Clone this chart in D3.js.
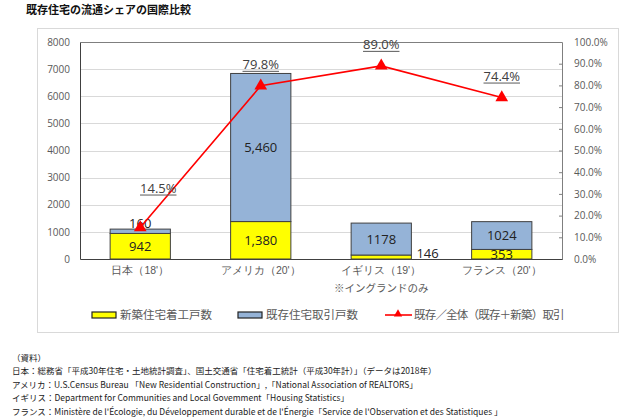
<!DOCTYPE html>
<html><head><meta charset="utf-8">
<script src="https://cdn.jsdelivr.net/npm/d3@7"></script>
<style>
body{margin:0;background:#fff;}
svg{display:block;font-family:"Noto Sans CJK JP","Noto Sans",sans-serif;}
</style></head><body>
<svg id="c" width="630" height="420"></svg>
<script>
const categories = ["日本（18'）", "アメリカ（20'）", "イギリス（19'）", "フランス（20'）"];
const newBuilt = [942, 1380, 146, 353];
const existing = [160, 5460, 1178, 1024];
const share = [14.5, 79.8, 89.0, 74.4];
const existingLabels = ["160", "5,460", "1178", "1024"];
const newLabels = ["942", "1,380", "146", "353"];
const leftTicks = [0,1000,2000,3000,4000,5000,6000,7000,8000];
const rightTicks = [0,10,20,30,40,50,60,70,80,90,100];
const legendLabels = ["新築住宅着工戸数", "既存住宅取引戸数", "既存／全体（既存＋新築）取引"];
const subNote = "※イングランドのみ";
const title = "既存住宅の流通シェアの国際比較";
const sources = [
  "（資料）",
  "日本：総務省「平成30年住宅・土地統計調査」、国土交通省「住宅着工統計（平成30年計）」（データは2018年）",
  "アメリカ：U.S.Census Bureau 「New Residential Construction」,「National Association of REALTORS」",
  "イギリス：Department for Communities and Local Govemment「Housing Statistics」",
  "フランス：Ministère de l'Écologie, du Développement durable et de l'Énergie「Service de l'Observation et des Statistiques 」"
];

const svg = d3.select("#c");
const L = 80, R = 562, T = 42, B = 259;
const gray = "#595959";

// outer frame
svg.append("rect").attr("x",37.5).attr("y",28.5).attr("width",581).attr("height",304)
  .attr("fill","none").attr("stroke","#d9d9d9");

svg.append("text").attr("x",26).attr("y",14).attr("font-size",11).attr("font-weight","bold")
  .attr("fill","#111").text(title);

const x = d3.scaleBand().domain(categories).range([L,R]).paddingInner(0.5).paddingOuter(0.25);
const y = d3.scaleLinear().domain([0,8000]).range([B,T]);
const y2 = d3.scaleLinear().domain([0,100]).range([B,T]);

// gridlines
svg.append("g").selectAll("line").data(leftTicks.slice(1)).join("line")
  .attr("x1",L).attr("x2",R).attr("y1",d=>Math.round(y(d))+0.5).attr("y2",d=>Math.round(y(d))+0.5)
  .attr("stroke","#d9d9d9").attr("stroke-width",1);

// left axis
const gl = svg.append("g").attr("transform",`translate(${L},0)`)
  .call(d3.axisLeft(y).tickValues(leftTicks).tickSize(0).tickPadding(10).tickFormat(d3.format("d")));
gl.select(".domain").attr("stroke","#404040");
gl.selectAll("text").attr("font-size",10).attr("fill",gray).attr("font-family","'Open Sans',sans-serif");

// right axis
const gr = svg.append("g").attr("transform",`translate(${R},0)`)
  .call(d3.axisRight(y2).tickValues(rightTicks).tickSize(-3).tickPadding(12).tickFormat(d=>d.toFixed(1)+"%"));
gr.select(".domain").attr("stroke","#7f7f7f");
gr.selectAll(".tick line").attr("stroke","#7f7f7f");
gr.selectAll("text").attr("font-size",10).attr("fill",gray).attr("font-family","'Open Sans',sans-serif");

// top border
svg.append("line").attr("x1",L).attr("x2",R).attr("y1",T+0.5).attr("y2",T+0.5).attr("stroke","#7f7f7f");

// bars
const bw = x.bandwidth();
svg.append("g").selectAll("rect").data(categories).join("rect")
  .attr("x",d=>x(d)).attr("width",bw)
  .attr("y",(d,i)=>y(newBuilt[i])).attr("height",(d,i)=>B-y(newBuilt[i]))
  .attr("fill","#FFFF00").attr("stroke","#404040").attr("stroke-width",1);
svg.append("g").selectAll("rect").data(categories).join("rect")
  .attr("x",d=>x(d)).attr("width",bw)
  .attr("y",(d,i)=>y(newBuilt[i]+existing[i])).attr("height",(d,i)=>y(newBuilt[i])-y(newBuilt[i]+existing[i]))
  .attr("fill","#95B3D7").attr("stroke","#404040").attr("stroke-width",1);

// bottom axis
const gb = svg.append("g").attr("transform",`translate(0,${B})`)
  .call(d3.axisBottom(x).tickSize(0).tickPadding(8));
gb.select(".domain").attr("stroke","#404040");
gb.selectAll("text").attr("font-size",10.5).attr("fill",gray);
svg.append("text").attr("x",x(categories[2])+bw/2).attr("y",292).attr("text-anchor","middle")
  .attr("font-size",10.5).attr("fill",gray).text(subNote);

// data labels
const lab = svg.append("g").attr("font-size",13).attr("fill","#222").attr("text-anchor","middle")
  .attr("font-family","'Open Sans',sans-serif");
categories.forEach((c,i)=>{
  const cx = x(c)+bw/2;
  let ey = (y(newBuilt[i]) + y(newBuilt[i]+existing[i]))/2;
  if (i===0) ey = y(newBuilt[i]+existing[i]) - 6;
  lab.append("text").attr("x",cx).attr("y",ey).attr("dy","0.35em").text(existingLabels[i]);
  let nx = cx, ny = (B + y(newBuilt[i]))/2;
  let t = lab.append("text").attr("x",nx).attr("y",ny).attr("dy","0.35em").text(newLabels[i]);
  if (i===2) t.attr("x",x(c)+bw+5).attr("y",B-6).attr("text-anchor","start");
});

// line
const px = i=>x(categories[i])+bw/2;
svg.append("path").datum(share)
  .attr("d",d3.line().x((d,i)=>px(i)).y(d=>y2(d)))
  .attr("fill","none").attr("stroke","#FF0000").attr("stroke-width",1.6);
svg.append("g").selectAll("path").data(share).join("path")
  .attr("transform",(d,i)=>`translate(${px(i)},${y2(d)})`)
  .attr("d",d3.symbol(d3.symbolTriangle,70)).attr("fill","#FF0000");

// percent labels
const pl = svg.append("g").attr("font-size",13).attr("fill","#404040").attr("text-anchor","middle")
  .attr("font-family","'Open Sans',sans-serif");
share.forEach((d,i)=>{
  let lx = px(i), ly = y2(d) - 17;
  if (i===0){ lx = px(i)+18; ly = y2(d) - 35; }
  const t = pl.append("text").attr("x",lx).attr("y",ly).text(d.toFixed(1)+"%");
  const w = t.node().getComputedTextLength();
  pl.append("line").attr("x1",lx-w/2).attr("x2",lx+w/2).attr("y1",ly+2.5).attr("y2",ly+2.5)
    .attr("stroke","#595959").attr("stroke-width",1);
});

// legend
const lg = svg.append("g").attr("font-size",11.5).attr("fill",gray);
[["#FFFF00",92],["#95B3D7",238]].forEach(([col,lx],i)=>{
  lg.append("rect").attr("x",lx).attr("y",312).attr("width",24).attr("height",6)
    .attr("fill",col).attr("stroke","#222").attr("stroke-width",1.2);
  lg.append("text").attr("x",lx+28).attr("y",319).text(legendLabels[i]);
});
lg.append("line").attr("x1",385).attr("x2",412).attr("y1",315).attr("y2",315).attr("stroke","#FF0000").attr("stroke-width",1.6);
lg.append("path").attr("transform","translate(398,314)").attr("d",d3.symbol(d3.symbolTriangle,30)).attr("fill","#FF0000");
lg.append("text").attr("x",414).attr("y",319).attr("letter-spacing",-0.8).text(legendLabels[2]);

// sources
const sg = svg.append("g").attr("font-size",8.5).attr("fill","#222");
sources.forEach((s,i)=>{
  sg.append("text").attr("x",12).attr("y",361+i*13.4).text(s);
});
</script>
</body></html>
